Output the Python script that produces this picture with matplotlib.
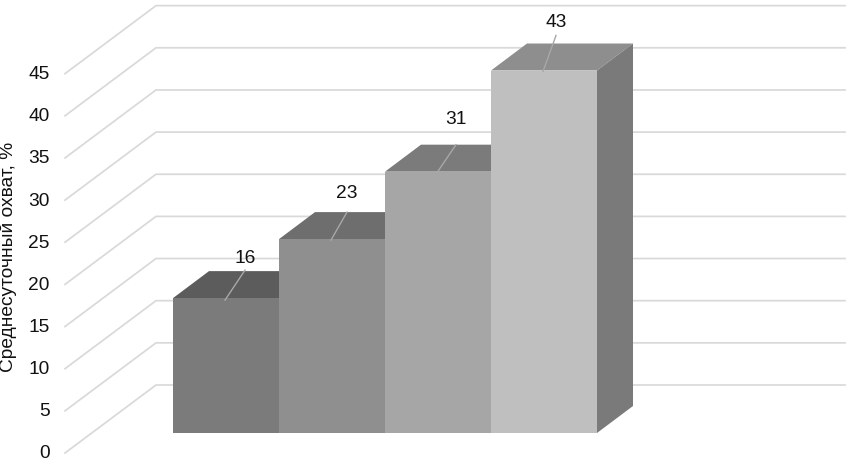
import matplotlib
matplotlib.use("Agg")
import matplotlib.pyplot as plt
from matplotlib.patches import Polygon

# data
values = [16, 23, 31, 43]
tick_values = [0, 5, 10, 15, 20, 25, 30, 35, 40, 45]
ylabel = "Среднесуточный охват, %"
front_colors = ["#7b7b7b", "#8f8f8f", "#a6a6a6", "#bfbfbf"]
top_colors = ["#5c5c5c", "#6e6e6e", "#7b7b7b", "#8e8e8e"]
side_color = "#7a7a7a"
grid_color = "#d9d9d9"
leader_color = "#a8a8a8"

W, H = 850, 460
FS = 13.8
plt.rcParams["font.family"] = ["Liberation Sans", "DejaVu Sans"]
fig = plt.figure(figsize=(W / 100, H / 100), dpi=100)
ax = fig.add_axes([0, 0, 1, 1])

# axis scales: x in categories (one bar = 106 px), y in value units (8.43 px per unit)
PX_X = 106.0
PX_Y = 8.43
X0 = 173.0
BASE = 434.0
ax.set_xlim(-X0 / PX_X, (W - X0) / PX_X)
ax.set_ylim((BASE - H) / PX_Y, BASE / PX_Y)
ax.axis("off")


def dx(px):
    return px / PX_X


def dy(px):
    return px / PX_Y


# gridlines: front end, back end, right end (pixel offsets from the bar base)
for v in tick_values:
    y_front = v + dy(-20)
    y_back = v + dy(48)
    ax.plot([dx(65 - X0), dx(156 - X0), dx(845 - X0)], [y_front, y_back, y_back],
            color=grid_color, lw=1.25, zorder=1, solid_joinstyle="miter")
    ax.text(dx(49.5 - X0), y_front, str(v), ha="right", va="center",
            fontsize=FS, color="#111111", zorder=5)

# bars
depth_x = dx(36)
depth_y = dy(27)
n = len(values)
for i, v in enumerate(values):
    ax.add_patch(Polygon([(i, v), (i + 1, v), (i + 1 + depth_x, v + depth_y), (i + depth_x, v + depth_y)],
                         closed=True, fc=top_colors[i], ec="none", zorder=2 + i * 0.1))
    if i == n - 1:
        ax.add_patch(Polygon([(i + 1, 0), (i + 1 + depth_x, depth_y), (i + 1 + depth_x, v + depth_y), (i + 1, v)],
                             closed=True, fc=side_color, ec="none", zorder=2.5))
    ax.add_patch(Polygon([(i, 0), (i + 1, 0), (i + 1, v), (i, v)],
                         closed=True, fc=front_colors[i], ec="none", zorder=3 + i * 0.1))

# data labels with leader lines (offsets in pixels from the bar's top-left corner)
leaders = [(52, 2, 72, 28), (52, 1, 68, 27), (52, 1, 71, 27), (52, 1, 65, 35)]
label_offsets = [(72, 41), (68, 47), (71, 53), (65, 49)]
for i, v in enumerate(values):
    x1, y1, x2, y2 = leaders[i]
    ax.plot([i + dx(x1), i + dx(x2)], [v - dy(y1), v + dy(y2)], color=leader_color, lw=1.0, zorder=4)
    ox, oy = label_offsets[i]
    ax.text(i + dx(ox), v + dy(oy), str(v), ha="center", va="center", fontsize=FS, color="#111111", zorder=5)

ax.text(dx(8.5 - X0), (BASE - 257) / PX_Y, ylabel, rotation=90, ha="center", va="center",
        fontsize=FS, color="#111111", zorder=5)

fig.savefig("out.png", dpi=100)
